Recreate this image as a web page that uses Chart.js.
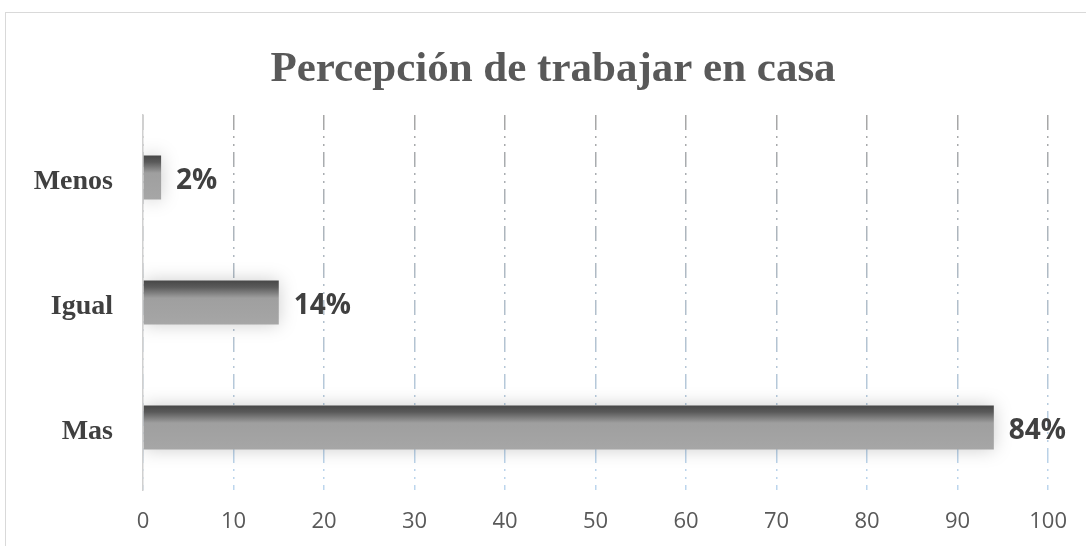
<!DOCTYPE html>
<html>
<head>
<meta charset="utf-8">
<script src="https://cdn.jsdelivr.net/npm/chart.js@4"></script>
<style>
  body { margin: 0; background: #fff; overflow: hidden; }
  #frame { position: absolute; left: 5px; top: 12px; width: 1200px; height: 600px; border: 1px solid #d9d9d9; }
  #wrap { position: absolute; left: 0; top: 0; width: 1086px; height: 546px; }
</style>
</head>
<body>
<div id="frame"></div>
<div id="wrap"><canvas id="chart" width="1086" height="546"></canvas></div>
<script>
const categories = ["Menos", "Igual", "Mas"];
const values = [2, 15, 94];
const valueLabels = ["2%", "14%", "84%"];
const chartTitle = "Percepción de trabajar en casa";
const tickMax = 100;

// grey bars with a dark top edge
function barFill(ctx) {
  const c = ctx.chart;
  if (!c.chartArea) return "#a6a6a6";
  const y = c.scales.y;
  const yc = y.getPixelForValue(ctx.dataIndex);
  const h = Math.abs(y.getPixelForValue(1) - y.getPixelForValue(0)) * 0.352;
  const g = c.ctx.createLinearGradient(0, yc - h / 2, 0, yc + h / 2);
  g.addColorStop(0, "#474747");
  g.addColorStop(0.15, "#5a5a5a");
  g.addColorStop(0.4, "#9f9f9f");
  g.addColorStop(1, "#a6a6a6");
  return g;
}

function gridColor(ctx) {
  const c = ctx.chart;
  if (!c.chartArea) return "#bbbbbb";
  const g = c.ctx.createLinearGradient(0, c.chartArea.top, 0, c.chartArea.bottom);
  g.addColorStop(0, "#a6a6a6");
  g.addColorStop(1, "#bcd6ee");
  return g;
}

const shadowPlugin = {
  id: "shadow",
  beforeDatasetsDraw(chart) {
    const ctx = chart.ctx;
    ctx.save();
    ctx.shadowColor = "rgba(0,0,0,0.2)";
    ctx.shadowBlur = 18;
  },
  afterDatasetsDraw(chart) {
    chart.ctx.restore();
  }
};

const labelPlugin = {
  id: "valueLabels",
  afterDatasetsDraw(chart) {
    const ctx = chart.ctx;
    ctx.save();
    ctx.font = "bold 28px 'Open Sans'";
    ctx.fillStyle = "#404040";
    ctx.textAlign = "left";
    ctx.textBaseline = "middle";
    chart.getDatasetMeta(0).data.forEach((bar, i) => {
      ctx.fillText(valueLabels[i], bar.x + 15, bar.y + 4);
    });
    ctx.restore();
  }
};

const titlePlugin = {
  id: "centerTitle",
  afterDraw(chart) {
    const ctx = chart.ctx;
    ctx.save();
    ctx.font = "bold 43px 'Liberation Serif'";
    ctx.fillStyle = "#595959";
    ctx.textAlign = "center";
    ctx.textBaseline = "middle";
    ctx.fillText(chartTitle, 553, 70);
    ctx.restore();
  }
};

new Chart(document.getElementById("chart"), {
  type: "bar",
  data: {
    labels: categories,
    datasets: [{
      data: values,
      backgroundColor: barFill,
      borderWidth: 0,
      barPercentage: 0.352,
      categoryPercentage: 1
    }]
  },
  options: {
    indexAxis: "y",
    responsive: false,
    animation: false,
    layout: { padding: { left: 0, right: 35, top: 115, bottom: 0 } },
    plugins: {
      legend: { display: false },
      tooltip: { enabled: false },
      title: { display: false }
    },
    scales: {
      x: {
        min: 0,
        max: tickMax,
        ticks: {
          stepSize: 10,
          color: "#595959",
          padding: 19,
          font: { family: "'Open Sans'", size: 22 }
        },
        grid: { color: gridColor, lineWidth: 1.5, drawTicks: false },
        border: { display: false, dash: [15, 6, 2, 6, 2, 6] },
        afterFit(scale) { scale.height = 56; }
      },
      y: {
        ticks: {
          color: "#404040",
          padding: 22,
          labelOffset: 4,
          font: { family: "'Liberation Serif'", size: 28, weight: "bold" }
        },
        grid: { display: false },
        border: { display: true, color: "#d0d0d0", width: 1.5 },
        afterFit(scale) { scale.width = 143; }
      }
    }
  },
  plugins: [shadowPlugin, labelPlugin, titlePlugin]
});
</script>
</body>
</html>
